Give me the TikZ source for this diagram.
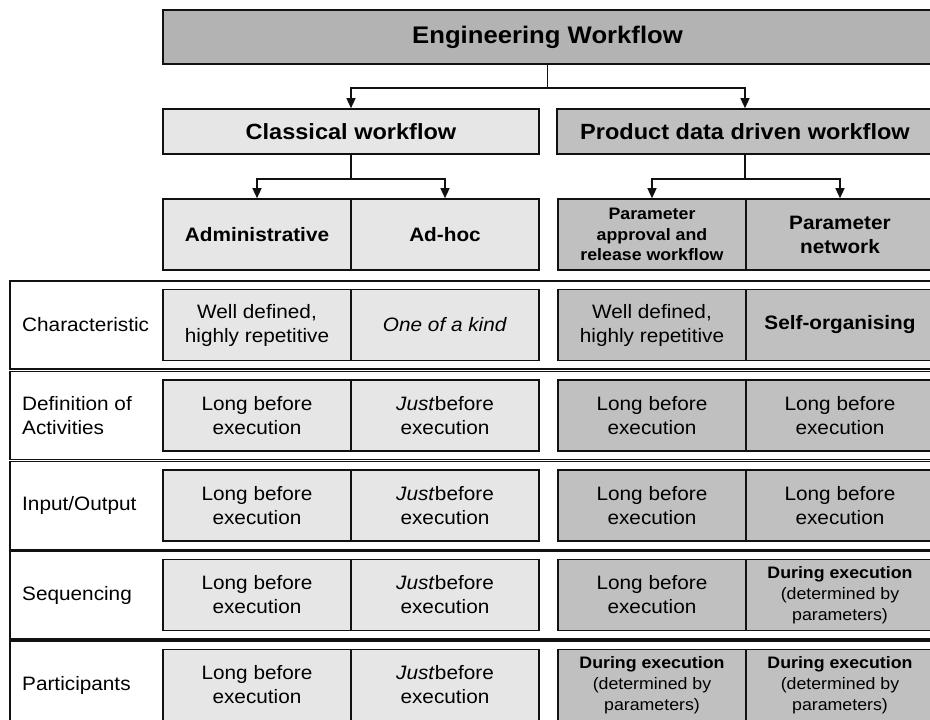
\documentclass[tikz,border=0pt]{standalone}
\usepackage{fontspec}
\setmainfont{Liberation Sans}[FakeStretch=1.07]
\usepackage{xcolor}
\usetikzlibrary{arrows.meta}
\definecolor{ewdark}{HTML}{B3B3B3}
\definecolor{ewmid}{HTML}{C0C0C0}
\definecolor{ewlight}{HTML}{E6E6E6}
\definecolor{ewink}{HTML}{111111}
\tikzset{
  headBox/.style={draw=ewink, line width=1.6pt, inner sep=0pt, align=center},
  titleBox/.style={headBox, fill=ewdark, minimum width=769pt, minimum height=54pt, font=\fontsize{24}{28}\selectfont\bfseries},
  kindBox/.style={headBox, minimum width=376pt, minimum height=45pt, font=\fontsize{22}{26}\selectfont\bfseries},
  lightBox/.style={headBox, fill=ewlight, minimum width=188pt, minimum height=71pt, font=\fontsize{19.4}{24}\selectfont},
  darkBox/.style={headBox, fill=ewmid, minimum width=188pt, minimum height=71pt, font=\fontsize{19.4}{24}\selectfont},
  boldText/.style={font=\fontsize{19.4}{24}\selectfont\bfseries},
  smallText/.style={font=\fontsize{16.6}{21}\selectfont},
  rowFrame/.style={draw=ewink, line width=1.6pt, fill=white, minimum width=922pt, minimum height=88pt, inner sep=0pt},
  rowLabel/.style={anchor=west, align=left, inner sep=0pt, font=\fontsize{19.4}{24}\selectfont},
  treeArrow/.style={draw=ewink, line width=1.4pt, -{Triangle[length=10pt,width=9pt]}}
}

\begin{document}
\begin{tikzpicture}[x=1pt,y=-1pt]
  \useasboundingbox (0,0) rectangle (930,720);
  \clip (0,0) rectangle (930,720);
  % tree of workflow kinds
  \node[titleBox] (eng) at (547.5,37) {Engineering Workflow};
  \node[kindBox, fill=ewlight] (cls) at (351,131.5) {Classical workflow};
  \node[kindBox, fill=ewmid] (pdd) at (745,131.5) {Product data driven workflow};
  \node[lightBox, boldText] (adm) at (257,234.5) {Administrative};
  \node[lightBox, boldText] (adh) at (445,234.5) {Ad-hoc};
  \node[darkBox, font=\fontsize{16.6}{20.5}\selectfont\bfseries] (par) at (652,234.5) {Parameter\\approval and\\release workflow};
  \node[darkBox, boldText] (net) at (840,234.5) {Parameter\\network};
  \draw[treeArrow] (eng.south) -- ++(0,23) -| (cls.north);
  \draw[treeArrow] (eng.south) -- ++(0,23) -| (pdd.north);
  \draw[treeArrow] (cls.south) -- ++(0,24) -| (adm.north);
  \draw[treeArrow] (cls.south) -- ++(0,24) -| (adh.north);
  \draw[treeArrow] (pdd.south) -- ++(0,24) -| (par.north);
  \draw[treeArrow] (pdd.south) -- ++(0,24) -| (net.north);
  % rows
  \foreach \r/\y in {1/325,2/415.5,3/505.5,4/595,5/685}
    \node[rowFrame] (row\r) at (471,\y) {};
  \node[rowLabel] (lab1) at (22,325) {Characteristic};
  \node[rowLabel] (lab2) at (22,415.5) {Definition of\\Activities};
  \node[rowLabel] (lab3) at (22,505.5) {Input/Output};
  \node[rowLabel] (lab4) at (22,595) {Sequencing};
  \node[rowLabel] (lab5) at (22,685) {Participants};
  % characteristic
  \node[lightBox] (c11) at (257,325) {Well defined,\\highly repetitive};
  \node[lightBox] (c12) at (445,325) {\textit{One of a kind}};
  \node[darkBox] (c13) at (652,325) {Well defined,\\highly repetitive};
  \node[darkBox, boldText] (c14) at (840,325) {Self-organising};
  % definition of activities
  \node[lightBox] (c21) at (257,415.5) {Long before\\execution};
  \node[lightBox] (c22) at (445,415.5) {\textit{Just}before\\execution};
  \node[darkBox] (c23) at (652,415.5) {Long before\\execution};
  \node[darkBox] (c24) at (840,415.5) {Long before\\execution};
  % input/output
  \node[lightBox] (c31) at (257,505.5) {Long before\\execution};
  \node[lightBox] (c32) at (445,505.5) {\textit{Just}before\\execution};
  \node[darkBox] (c33) at (652,505.5) {Long before\\execution};
  \node[darkBox] (c34) at (840,505.5) {Long before\\execution};
  % sequencing
  \node[lightBox] (c41) at (257,595) {Long before\\execution};
  \node[lightBox] (c42) at (445,595) {\textit{Just}before\\execution};
  \node[darkBox] (c43) at (652,595) {Long before\\execution};
  \node[darkBox, smallText] (c44) at (840,595) {\textbf{During execution}\\(determined by\\parameters)};
  % participants
  \node[lightBox] (c51) at (257,685) {Long before\\execution};
  \node[lightBox] (c52) at (445,685) {\textit{Just}before\\execution};
  \node[darkBox, smallText] (c53) at (652,685) {\textbf{During execution}\\(determined by\\parameters)};
  \node[darkBox, smallText] (c54) at (840,685) {\textbf{During execution}\\(determined by\\parameters)};
\end{tikzpicture}
\end{document}
